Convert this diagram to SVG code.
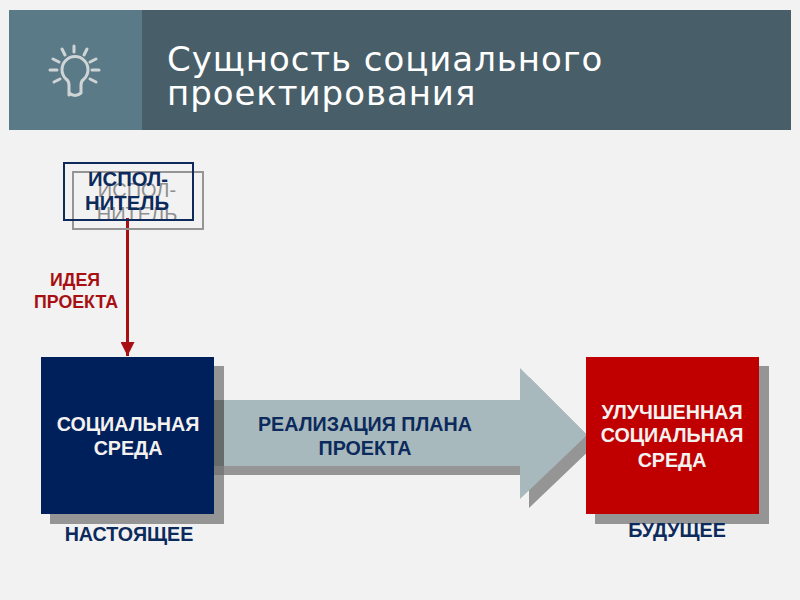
<svg xmlns="http://www.w3.org/2000/svg" width="800" height="600" viewBox="0 0 800 600">
<defs>
<marker id="ah" markerUnits="userSpaceOnUse" markerWidth="14" markerHeight="14" refX="13" refY="6.5" orient="auto" viewBox="0 0 13 13"><path d="M0 0L13 6.500L0 13Z" fill="#a80f12"/></marker>
</defs>
<style>
text{font-family:"Liberation Sans",Arial,sans-serif;font-weight:700;text-anchor:middle}
.t{font-family:"DejaVu Sans",sans-serif;font-weight:400;text-anchor:start;font-size:34px;fill:#fff;letter-spacing:.95px}
.n{fill:#0c2a5c;font-size:19.700px}
.w{fill:#f4f2f0;font-size:19.700px}
.r{fill:#a80f12;font-size:17.800px}
.g{fill:#8f8f8f;font-size:20px;font-weight:400}
.s{fill:#959595}
.e{font-size:20.300px}
.b{stroke:#cfd5d6;stroke-width:3;fill:none;stroke-linecap:round;stroke-linejoin:round}
</style>
<rect width="800" height="600" fill="#f2f2f2"/>
<g id="header">
<rect x="9" y="10" width="782" height="120" fill="#485e68"/>
<rect x="9" y="10" width="133" height="120" fill="#5a7a87"/>
<g class="b">
<path d="M69 95V85Q69 81 66 79A13 13 0 1 1 84 79Q81 81 81 85V93Q75 98 69 93Z"/>
<path d="M74 46V52M62 49L65 55M87 49L84 55M53 59L59 62M96 59L90 62M50 70H57M92 70H99M54 82L60 79M96 82L90 79"/>
</g>
<text class="t" x="167" y="71">Сущность социального</text>
<text class="t" x="167" y="105">проектирования</text>
</g>
<g id="connectors">
<path d="M127.500 218V356" stroke="#a80f12" stroke-width="3" fill="none" marker-end="url(#ah)"/>
</g>
<g id="executor-shadow">
<rect x="73" y="172" width="130" height="57" fill="none" stroke="#959595" stroke-width="2"/>
<text class="g" x="137" y="197">ИСПОЛ-</text>
<text class="g" x="137" y="221">НИТЕЛЬ</text>
</g>
<g id="executor">
<rect x="64" y="163" width="129" height="57" fill="none" stroke="#0c2a5c" stroke-width="2"/>
<text class="n e" x="128" y="186">ИСПОЛ-</text>
<text class="n e" x="127" y="210">НИТЕЛЬ</text>
</g>
<g id="idea">
<text class="r" x="75" y="286">ИДЕЯ</text>
<text class="r" x="76" y="308">ПРОЕКТА</text>
</g>
<g id="plan-arrow">
<path class="s" d="M224 409H529V377L596 444L529 508V475H224Z"/>
<path d="M214 400H520V368L587 435L520 499V466H214Z" fill="#a8b9bd"/>
<text class="n" x="365" y="431">РЕАЛИЗАЦИЯ ПЛАНА</text>
<text class="n" x="365" y="455">ПРОЕКТА</text>
</g>
<g id="present">
<rect class="s" x="50" y="366" width="174" height="158"/>
<rect x="41" y="357" width="173" height="157" fill="#00205c"/>
<path d="M214 400H224V466H214Z" fill="#666c6c"/>
<path d="M214 466H224V475H214Z" fill="#7a7a7a"/>
<text class="w" x="128" y="431">СОЦИАЛЬНАЯ</text>
<text class="w" x="128" y="455">СРЕДА</text>
<text class="n" x="129" y="541">НАСТОЯЩЕЕ</text>
</g>
<g id="future">
<rect class="s" x="595" y="366" width="174" height="158"/>
<rect x="586" y="357" width="173" height="157" fill="#c00000"/>
<text class="w" x="672" y="419">УЛУЧШЕННАЯ</text>
<text class="w" x="672" y="442">СОЦИАЛЬНАЯ</text>
<text class="w" x="672" y="467">СРЕДА</text>
<text class="n" x="677" y="537">БУДУЩЕЕ</text>
</g>
</svg>
